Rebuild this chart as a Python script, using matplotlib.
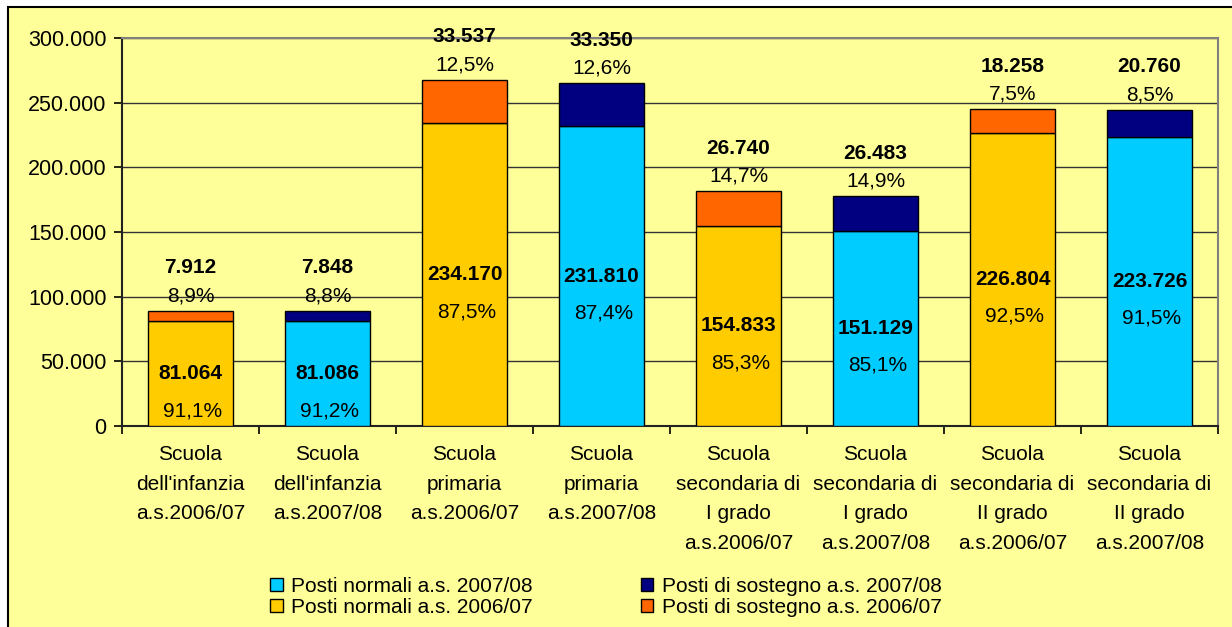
import numpy as np
import matplotlib.pyplot as plt
from matplotlib.patches import Rectangle

plt.rcParams['font.family'] = ['Liberation Sans', 'DejaVu Sans']

# --- Data ---
categorie = ["Scuola\ndell'infanzia\na.s.2006/07", "Scuola\ndell'infanzia\na.s.2007/08",
             "Scuola\nprimaria\na.s.2006/07", "Scuola\nprimaria\na.s.2007/08",
             "Scuola\nsecondaria di\nI grado\na.s.2006/07", "Scuola\nsecondaria di\nI grado\na.s.2007/08",
             "Scuola\nsecondaria di\nII grado\na.s.2006/07", "Scuola\nsecondaria di\nII grado\na.s.2007/08"]
normali = [81064, 81086, 234170, 231810, 154833, 151129, 226804, 223726]
sostegno = [7912, 7848, 33537, 33350, 26740, 26483, 18258, 20760]
pct_normali = ["91,1%", "91,2%", "87,5%", "87,4%", "85,3%", "85,1%", "92,5%", "91,5%"]
pct_sostegno = ["8,9%", "8,8%", "12,5%", "12,6%", "14,7%", "14,9%", "7,5%", "8,5%"]
anno = ["2006/07", "2007/08"] * 4

col_normali = {"2006/07": "#FFCC00", "2007/08": "#00CCFF"}
col_sostegno = {"2006/07": "#FF6600", "2007/08": "#000080"}
bg = "#FFFF99"
fs = 15


def fmt(v):
    return f"{v:,.0f}".replace(",", ".")


# --- Figure ---
fig = plt.figure(figsize=(12.32, 6.27), dpi=100, facecolor="white")
fig.patches.append(Rectangle((8 / 1232, -0.01), 1.1, 1 - 7 / 627 + 0.01, transform=fig.transFigure,
                             facecolor=bg, edgecolor="black", linewidth=1.5, zorder=-10))
ax = fig.add_axes([122 / 1232, 1 - 426 / 627, (1218 - 122) / 1232, (426 - 38) / 627])
ax.set_facecolor(bg)

x = np.arange(len(categorie))
cn = [col_normali[a] for a in anno]
cs = [col_sostegno[a] for a in anno]
ax.bar(x, normali, width=0.62, color=cn, edgecolor="black", linewidth=1, zorder=3)
ax.bar(x, sostegno, width=0.62, bottom=normali, color=cs, edgecolor="black", linewidth=1, zorder=3)

# --- Labels ---
for i in range(len(x)):
    mid = normali[i] / 2
    top = normali[i] + sostegno[i]
    ax.annotate(fmt(normali[i]), (x[i], mid), ha="center", va="center", fontsize=fs,
                fontweight="bold", zorder=5)
    ax.annotate(pct_normali[i], (x[i], mid), xytext=(2, -37), textcoords="offset pixels",
                ha="center", va="center", fontsize=fs, zorder=5)
    ax.annotate(fmt(sostegno[i]), (x[i], top), xytext=(0, 43), textcoords="offset pixels",
                ha="center", va="center", fontsize=fs, fontweight="bold", annotation_clip=False, zorder=5)
    ax.annotate(pct_sostegno[i], (x[i], top), xytext=(0, 15), textcoords="offset pixels",
                ha="center", va="center", fontsize=fs, annotation_clip=False, zorder=5)

# --- Axes ---
ax.set_xlim(-0.5, 7.5)
ax.set_ylim(0, 300000)
ax.set_yticks(np.arange(0, 300001, 50000))
ax.set_yticklabels([fmt(v) for v in np.arange(0, 300001, 50000)], fontsize=15.5)
ax.yaxis.grid(True, color="#333333", linewidth=1, zorder=0)
ax.set_axisbelow(True)
ax.set_xticks(np.arange(-0.5, 8, 1))
ax.set_xticklabels([])
ax.set_xticks(x, minor=True)
ax.set_xticklabels(categorie, minor=True, fontsize=fs, linespacing=1.7, va="top")
ax.tick_params(axis="x", which="minor", length=0, pad=14)
ax.tick_params(axis="x", which="major", length=6, width=1.2, direction="out")
ax.tick_params(axis="y", length=6, width=1.2, direction="out", pad=5)
for s in ["left", "bottom"]:
    ax.spines[s].set_color("#222222")
    ax.spines[s].set_linewidth(1.5)
for s in ["top", "right"]:
    ax.spines[s].set_color("#808080")
    ax.spines[s].set_linewidth(1.5)

# --- Legend ---
h = [Rectangle((0, 0), 1, 1, facecolor=col_normali["2007/08"], edgecolor="black"),
     Rectangle((0, 0), 1, 1, facecolor=col_normali["2006/07"], edgecolor="black"),
     Rectangle((0, 0), 1, 1, facecolor=col_sostegno["2007/08"], edgecolor="black"),
     Rectangle((0, 0), 1, 1, facecolor=col_sostegno["2006/07"], edgecolor="black")]
lab = ["Posti normali a.s. 2007/08", "Posti normali a.s. 2006/07",
       "Posti di sostegno a.s. 2007/08", "Posti di sostegno a.s. 2006/07"]
fig.legend(h, lab, ncol=2, loc="center left", bbox_to_anchor=(270 / 1232, 1 - 597 / 627),
           frameon=False, handlelength=0.6, handleheight=0.6, handletextpad=0.4,
           columnspacing=5.2, labelspacing=0.1, borderaxespad=0, borderpad=0,
           prop={"size": 15})

fig.savefig("out.png", dpi=100, facecolor=fig.get_facecolor())
